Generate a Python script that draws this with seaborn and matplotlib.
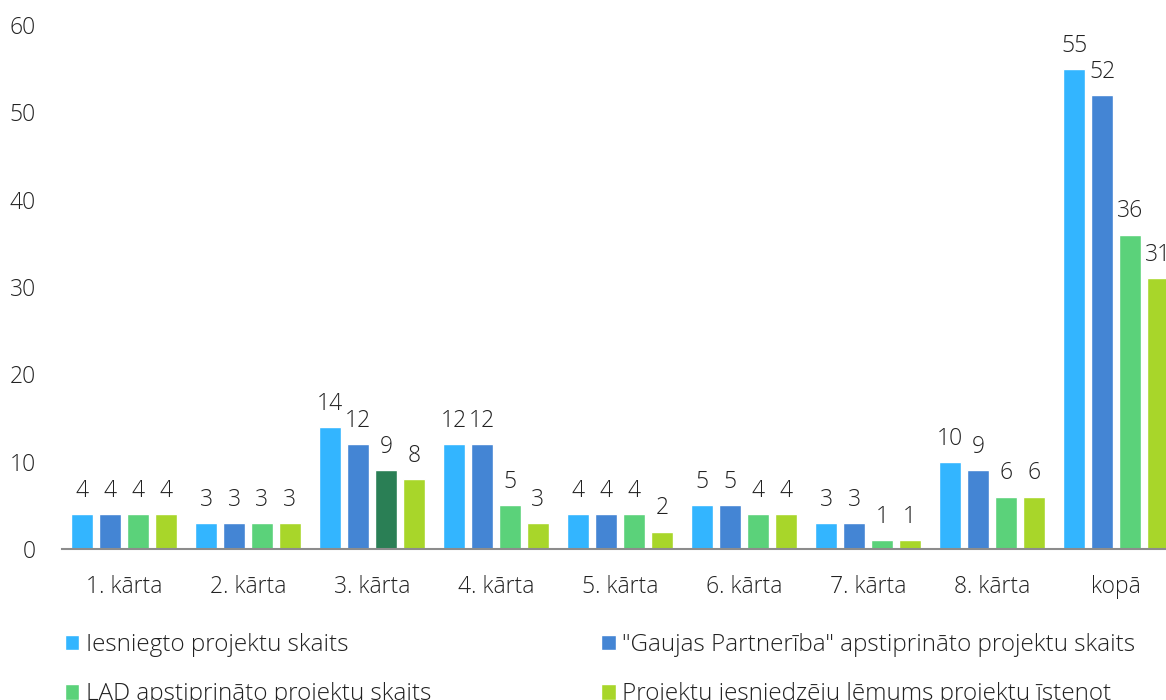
import pandas as pd
import matplotlib
matplotlib.use("Agg")
import matplotlib.pyplot as plt
import seaborn as sns

# --- data ---
categories = ["1. kārta", "2. kārta", "3. kārta", "4. kārta", "5. kārta",
              "6. kārta", "7. kārta", "8. kārta", "kopā"]
series_names = [
    "Iesniegto projektu skaits",
    "\"Gaujas Partnerība\" apstiprināto projektu skaits",
    "LAD apstiprināto projektu skaits",
    "Projektu iesniedzēju lēmums projektu īstenot",
]
iesniegti = [4, 3, 14, 12, 4, 5, 3, 10, 55]
gaujas = [4, 3, 12, 12, 4, 5, 3, 9, 52]
lad = [4, 3, 9, 5, 4, 4, 1, 6, 36]
istenot = [4, 3, 8, 3, 2, 4, 1, 6, 31]
colors = ["#33B5FF", "#4485D4", "#5BD27A", "#A8D62A"]
highlight_color = "#2A7F55"  # the single darker bar in 3. kārta

rows = []
for name, vals in zip(series_names, [iesniegti, gaujas, lad, istenot]):
    for cat, v in zip(categories, vals):
        rows.append({"kārta": cat, "sērija": name, "skaits": v})
df = pd.DataFrame(rows)

sns.set_style("white")
plt.rcParams["font.family"] = ["Open Sans", "DejaVu Sans"]
plt.rcParams["font.weight"] = "light"
text_color = "#222222"

fig = plt.figure(figsize=(11.66, 7.0), dpi=100)
ax = fig.add_axes([62 / 1166, 151 / 700, 1116 / 1166, 524 / 700])

sns.barplot(data=df, x="kārta", y="skaits", hue="sērija", hue_order=series_names,
            order=categories, palette=colors, width=0.9, gap=0.2,
            saturation=1, ax=ax, errorbar=None)

ax.containers[2][2].set_facecolor(highlight_color)

for cont in ax.containers:
    ax.bar_label(cont, padding=8, fontsize=16.5, color=text_color)

ax.set_xlim(-0.5, 8.5)
ax.set_ylim(0, 60)
ax.set_yticks(range(0, 61, 10))
ax.set_xlabel("")
ax.set_ylabel("")
for side in ["top", "right", "left"]:
    ax.spines[side].set_visible(False)
ax.spines["bottom"].set_color("#8C8C8C")
ax.spines["bottom"].set_linewidth(1.5)
ax.tick_params(axis="y", length=0, pad=19, labelsize=16.5, labelcolor=text_color)
ax.tick_params(axis="x", length=0, pad=19, labelsize=16.5, labelcolor=text_color)

handles, labels = ax.get_legend_handles_labels()
ax.legend_.remove()
order = [0, 2, 1, 3]
fig.legend([handles[i] for i in order], [labels[i] for i in order],
           loc="upper left", bbox_to_anchor=(43 / 1166, 0.127), ncol=2,
           frameon=False, fontsize=17.5, handlelength=0.6, handleheight=0.6,
           handletextpad=0.25, columnspacing=7.0, labelspacing=1.05,
           labelcolor=text_color)

fig.savefig("out.png", dpi=100)
